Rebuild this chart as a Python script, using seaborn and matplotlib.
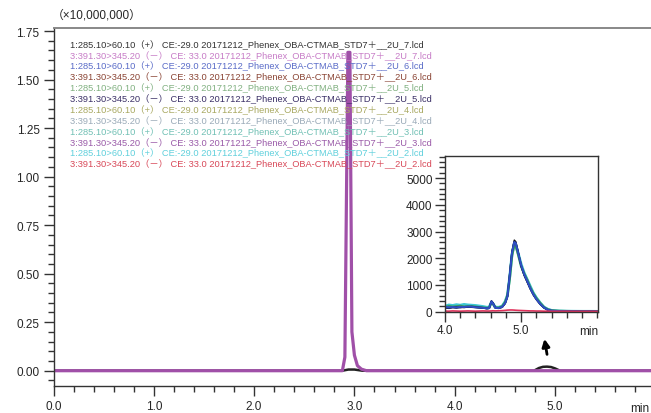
import numpy as np
import pandas as pd
import matplotlib
matplotlib.use("Agg")
import matplotlib.pyplot as plt
import seaborn as sns

sns.set_theme(style="ticks")
plt.rcParams['font.family'] = ['Liberation Sans', 'Noto Sans CJK JP', 'DejaVu Sans']

#main chromatogram (x10,000,000)
t_main_purple = [0.0, 2.88, 2.905, 2.935, 2.955, 2.975, 3.0, 3.03, 3.07, 3.12, 5.96]
purple_main = [0.0, 0.0, 0.07, 1.64, 1.64, 0.2, 0.08, 0.026, 0.008, 0.0, 0.0]
t_main_black = [0.0, 2.88, 2.94, 3.0, 3.08, 4.79, 4.84, 4.88, 4.92, 4.96, 5.0, 5.05, 5.96]
black_main = [0.0, 0.0, 0.006, 0.006, 0.0, 0.0, 0.014, 0.02, 0.021, 0.019, 0.012, 0.0, 0.0]

#inset (counts)
t_in = [4.00, 4.05, 4.10, 4.15, 4.20, 4.25, 4.30, 4.35, 4.40, 4.45, 4.50, 4.55, 4.58, 4.61,
        4.63, 4.66, 4.70, 4.75, 4.79, 4.82, 4.85, 4.88, 4.91, 4.93, 4.96, 5.00, 5.04, 5.08,
        5.12, 5.16, 5.20, 5.25, 5.30, 5.35, 5.40, 5.50, 5.60, 5.70, 5.80, 5.90, 6.00]
cyan_in = [200, 250, 230, 260, 240, 270, 250, 240, 230, 210, 190, 160, 170, 350, 300, 170, 160,
           200, 380, 620, 1300, 2150, 2550, 2500, 2200, 1780, 1450, 1200, 950, 700, 520, 330,
           170, 90, 45, 25, 15, 12, 10, 10, 8]
green_in = [160, 200, 180, 190, 210, 180, 200, 190, 180, 160, 150, 130, 140, 360, 290, 150, 140,
            190, 350, 600, 1250, 2100, 2500, 2450, 2150, 1700, 1420, 1180, 900, 680, 500, 320,
            160, 80, 40, 20, 15, 10, 10, 8, 6]
blue_in = [180, 160, 170, 150, 180, 170, 190, 180, 160, 150, 140, 120, 130, 380, 300, 140, 130,
           170, 320, 560, 1350, 2200, 2600, 2550, 2200, 1750, 1400, 1150, 880, 650, 470, 290,
           150, 70, 35, 20, 12, 10, 8, 10, 6]
navy_in = [150, 140, 160, 170, 150, 180, 170, 190, 170, 160, 140, 120, 130, 390, 320, 150, 130,
           170, 310, 580, 1380, 2230, 2620, 2580, 2230, 1720, 1380, 1120, 860, 640, 460, 280,
           150, 65, 30, 18, 10, 8, 6, 8, 5]
black_in = [140, 120, 150, 130, 160, 150, 170, 160, 150, 140, 130, 110, 120, 400, 330, 150, 120,
            160, 300, 550, 1400, 2250, 2680, 2620, 2250, 1700, 1350, 1100, 850, 620, 450, 270,
            140, 60, 30, 15, 10, 10, 5, 10, 5]
red_in = [20, 15, 25, 20, 15, 20, 25, 20, 15, 20, 25, 20, 20, 25, 30, 25, 30, 35, 45, 55, 60, 60,
          55, 50, 45, 40, 35, 30, 25, 25, 20, 20, 15, 15, 10, 10, 10, 8, 8, 8, 8]

#legend lines
legend_labels = [
    "1:285.10>60.10（+） CE:-29.0 20171212_Phenex_OBA-CTMAB_STD7＋__2U_7.lcd",
    "3:391.30>345.20（－） CE: 33.0 20171212_Phenex_OBA-CTMAB_STD7＋__2U_7.lcd",
    "1:285.10>60.10（+） CE:-29.0 20171212_Phenex_OBA-CTMAB_STD7＋__2U_6.lcd",
    "3:391.30>345.20（－） CE: 33.0 20171212_Phenex_OBA-CTMAB_STD7＋__2U_6.lcd",
    "1:285.10>60.10（+） CE:-29.0 20171212_Phenex_OBA-CTMAB_STD7＋__2U_5.lcd",
    "3:391.30>345.20（－） CE: 33.0 20171212_Phenex_OBA-CTMAB_STD7＋__2U_5.lcd",
    "1:285.10>60.10（+） CE:-29.0 20171212_Phenex_OBA-CTMAB_STD7＋__2U_4.lcd",
    "3:391.30>345.20（－） CE: 33.0 20171212_Phenex_OBA-CTMAB_STD7＋__2U_4.lcd",
    "1:285.10>60.10（+） CE:-29.0 20171212_Phenex_OBA-CTMAB_STD7＋__2U_3.lcd",
    "3:391.30>345.20（－） CE: 33.0 20171212_Phenex_OBA-CTMAB_STD7＋__2U_3.lcd",
    "1:285.10>60.10（+） CE:-29.0 20171212_Phenex_OBA-CTMAB_STD7＋__2U_2.lcd",
    "3:391.30>345.20（－） CE: 33.0 20171212_Phenex_OBA-CTMAB_STD7＋__2U_2.lcd",
]
legend_colors = ["#333333", "#c77cc7", "#5a6cc8", "#8a4434", "#80b080", "#3a2f66",
                 "#a8a860", "#9aaab8", "#70c0b4", "#9a5aa8", "#60d0dc", "#d84858"]

fig = plt.figure(figsize=(6.51, 4.14), dpi=100)
ax = fig.add_axes([0.0822, 0.0659, 0.9178, 0.8641])

# black first so the purple baseline sits on top, bump still shows above it
sns.lineplot(x=t_main_black, y=black_main, ax=ax, color="#222222", lw=1.8, sort=False)
sns.lineplot(x=t_main_purple, y=purple_main, ax=ax, color="#a050a8", lw=2.3, sort=False)

ax.set_xlim(0, 5.957)
ax.set_ylim(-0.0773, 1.7656)
ax.set_xticks([0, 1, 2, 3, 4, 5])
ax.set_xticklabels(["0.0", "1.0", "2.0", "3.0", "4.0", "5.0"])
ax.set_xticks(np.arange(0, 5.96, 0.2), minor=True)
ax.set_yticks([0, 0.25, 0.5, 0.75, 1.0, 1.25, 1.5, 1.75])
ax.set_yticklabels(["0.00", "0.25", "0.50", "0.75", "1.00", "1.25", "1.50", "1.75"])
ax.set_yticks(np.arange(-0.05, 1.76, 0.05), minor=True)
ax.tick_params(which="major", length=7.5, width=1, color="#333333", labelsize=8.5, pad=2.5)
ax.tick_params(which="minor", length=4.3, width=1, color="#333333")
for s in ["left", "bottom"]:
    ax.spines[s].set_color("#333333")
    ax.spines[s].set_linewidth(1)
ax.spines["top"].set_color("#888888")
ax.spines["top"].set_linewidth(1.4)
ax.spines["right"].set_visible(False)
ax.set_xlabel("")
ax.set_ylabel("")

ax.annotate("min", xy=(1.0, 0), xycoords="axes fraction", xytext=(-1, -11.5),
            textcoords="offset points", ha="right", va="top", fontsize=8.5)
fig.text(0.080, 0.962, "（×10,000,000）", fontsize=8.5, ha="left", va="center")

for i, (lab, col) in enumerate(zip(legend_labels, legend_colors)):
    ypx = 45 + 10.88 * i
    ax.text(0.0276, 1 - (ypx - 29) / 357.7, lab, color=col, fontsize=6.7,
            transform=ax.transAxes, ha="left", va="center")

ax.annotate("", xy=(4.89, 0.178), xytext=(4.925, 0.07),
            arrowprops=dict(arrowstyle="-|>", color="black", lw=2, mutation_scale=11))

#inset
ax2 = fig.add_axes([0.6836, 0.2440, 0.2350, 0.3768])
inset_df = pd.DataFrame({"t": t_in, "cyan": cyan_in, "green": green_in, "blue": blue_in,
                         "navy": navy_in, "black": black_in, "red": red_in})
inset_colors = {"cyan": "#3cc8d4", "green": "#3a9a5a", "blue": "#2f4fc4",
                "navy": "#1e2a78", "black": "#111111", "red": "#e0305a"}
inset_widths = {"cyan": 2.0, "green": 1.8, "black": 1.0, "navy": 1.3, "blue": 1.4, "red": 1.2}
for name in ["cyan", "green", "black", "navy", "blue", "red"]:
    sns.lineplot(data=inset_df, x="t", y=name, ax=ax2, color=inset_colors[name],
                 lw=inset_widths[name])
ax2.set_xlim(4.0, 6.01)
ax2.set_ylim(-15, 5830)
ax2.set_xticks([4, 5])
ax2.set_xticklabels(["4.0", "5.0"])
ax2.set_xticks(np.arange(4.0, 6.01, 0.2), minor=True)
ax2.set_yticks([0, 1000, 2000, 3000, 4000, 5000])
ax2.set_yticks(np.arange(0, 5801, 200), minor=True)
ax2.tick_params(which="major", length=7, width=1, color="#333333", labelsize=8.5, pad=2)
ax2.tick_params(which="minor", length=4.3, width=1, color="#333333")
for s in ax2.spines.values():
    s.set_color("#333333")
    s.set_linewidth(1)
ax2.set_xlabel("")
ax2.set_ylabel("")
ax2.annotate("min", xy=(1.0, 0), xycoords="axes fraction", xytext=(0, -9.5),
             textcoords="offset points", ha="right", va="top", fontsize=8.5)

fig.savefig("out.png", dpi=100)
